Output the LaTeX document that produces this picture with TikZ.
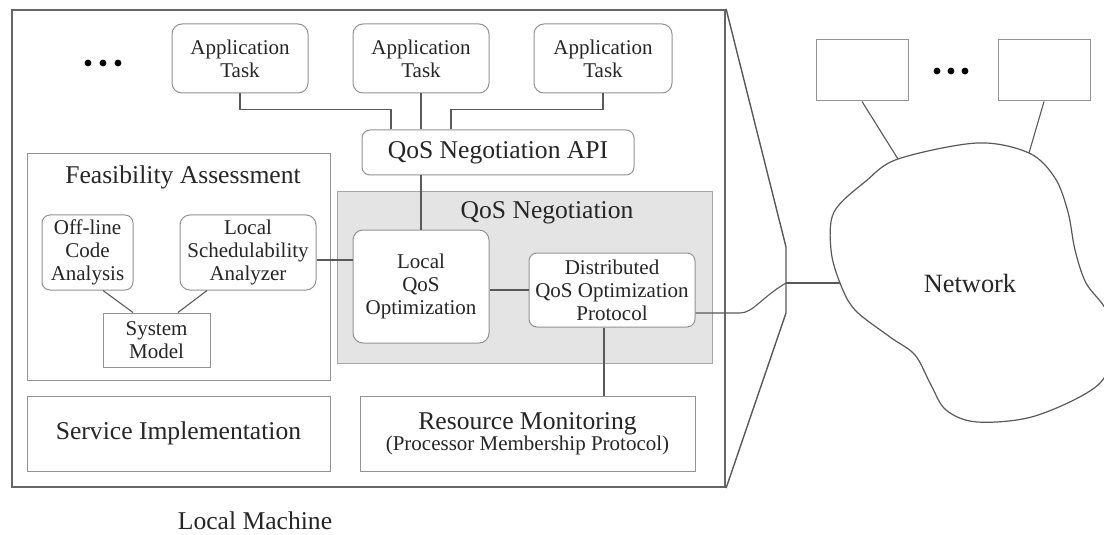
\documentclass[tikz,border=0pt]{standalone}
\usepackage{fontspec}
\setmainfont{Liberation Serif}
\usetikzlibrary{calc}

\tikzset{
  box/.style={draw=gray!85, line width=0.5pt, fill=white, align=center, inner sep=0pt,
              font=\fontsize{10.5}{11.5}\selectfont, text=black!85},
  rbox/.style={box, rounded corners=5pt},
  bigbox/.style={box, font=\fontsize{12.8}{14}\selectfont},
  title/.style={inner sep=0pt, font=\fontsize{12.8}{14}\selectfont, text=black!85},
  conn/.style={draw=black!65, line width=0.55pt},
  frame/.style={draw=black!60, line width=1.1pt},
  dotmark/.style={circle, fill=black, inner sep=0pt, minimum size=3.4pt},
}

\begin{document}
\begin{tikzpicture}[x=0.5pt, y=-0.5pt]
\useasboundingbox (0,0) rectangle (1104,535);
\clip (0,0) rectangle (1104,535);
\fill[white] (0,0) rectangle (1104,535);

% ---- local machine frame and its zoom lines ----
\node[frame, minimum width=356.5pt, minimum height=238.5pt, inner sep=0pt] (lm) at (368.5,248.5) {};
\node[title] (lmlabel) at (255,521) {Local Machine};
\coordinate (t1) at (786,247);
\coordinate (t2) at (786,313);
\coordinate (jn) at (786,283);
\draw[conn, line width=0.7pt] (lm.north east) -- (t1) -- (t2) -- (lm.south east);

% ---- application tasks ----
\node[dotmark] (ld1) at (88,63) {};
\node[dotmark] (ld2) at (103,63) {};
\node[dotmark] (ld3) at (118,63) {};
\node[rbox, minimum width=68pt, minimum height=34.5pt] (app1) at (240,58.5) {Application\\Task};
\node[rbox, minimum width=68pt, minimum height=34.5pt] (app2) at (421,58.5) {Application\\Task};
\node[rbox, minimum width=69pt, minimum height=34.5pt] (app3) at (603,58.5) {Application\\Task};

\node[bigbox, rounded corners=4pt, minimum width=136pt, minimum height=22.5pt] (api) at (498,152.5) {QoS Negotiation API};

\draw[conn] (app1.south) -- ++(0,16) -| ([xshift=-53.5pt]api.north);
\draw[conn] (app2.south) -- (app2.south |- api.north);
\draw[conn] (app3.south) -- ++(0,16) -| ([xshift=-23.5pt]api.north);

% ---- QoS negotiation ----
\node[box, draw=gray!70, fill=gray!21, minimum width=187.5pt, minimum height=85.5pt] (qneg) at (524.5,277.5) {};
\node[title] (qnegtitle) at (547,213) {QoS Negotiation};
\node[rbox, minimum width=68pt, minimum height=56.5pt] (lqo) at (421,286.5) {Local\\QoS\\Optimization};
\node[rbox, rounded corners=4pt, minimum width=83pt, minimum height=37pt] (dqo) at (612,290) {Distributed\\QoS Optimization\\Protocol};

\draw[conn] (lqo.north) -- (lqo.north |- api.south);
\draw[conn] (dqo.west -| lqo.east) -- (dqo.west);

% ---- feasibility assessment ----
\node[box, minimum width=151.5pt, minimum height=113pt] (fa) at (178.5,267) {};
\node[title] (fatitle) at (183,177) {Feasibility Assessment};
\node[rbox, rounded corners=4pt, minimum width=45.5pt, minimum height=37.5pt] (off) at (87.5,252.5) {Off-line\\Code\\Analysis};
\node[rbox, minimum width=68pt, minimum height=37.5pt] (lsa) at (248,252.5) {Local\\Schedulability\\Analyzer};
\node[box, minimum width=53.5pt, minimum height=27pt] (sm) at (156.5,340) {System\\Model};

\draw[conn] ([xshift=7.75pt]off.south) -- ([xshift=-11.75pt]sm.north);
\draw[conn] ([xshift=-20.5pt]lsa.south) -- ([xshift=10.75pt]sm.north);
\draw[conn] ([yshift=-3.75pt]lsa.east) -- ([yshift=-3.75pt]lsa.east -| lqo.west);

% ---- bottom row ----
\node[bigbox, minimum width=151.5pt, minimum height=37.5pt] (si) at (178.5,433.5) {Service Implementation};
\node[box, minimum width=167.5pt, minimum height=37.5pt] (rm) at (527.5,433.5)
  {{\fontsize{12.8}{14}\selectfont Resource Monitoring}\\[-1pt]{\fontsize{10.5}{11.5}\selectfont(Processor Membership Protocol)}};

\draw[conn] ([xshift=-4pt]dqo.south) -- ([xshift=-4pt]dqo.south |- rm.north);

% ---- link out to the network ----
\coordinate (bend) at (740,313);
\draw[conn] ([yshift=-11.5pt]dqo.east) -- (bend) .. controls (753,313) and (762,297) .. (jn);

% ---- network cloud ----
\coordinate (nw) at (840,283);
\coordinate (nn1) at (898,159);
\coordinate (nn2) at (1029,153);
\draw[conn, line width=0.6pt] plot[smooth cycle, tension=0.55] coordinates {
  (840,283) (831,250) (834,212) (866,181) (898,159) (977,143) (1029,153)
  (1055,178) (1068,212) (1075,250) (1086,283) (1106,310) (1114,345)
  (1098,385) (1035,416) (977,422) (946,410) (931,385) (915,355)
  (890,337) (855,310)};
\node[title, font=\fontsize{13.2}{15}\selectfont] (net) at (970,283) {Network};
\draw[conn] (jn) -- (nw);

% ---- remote machines ----
\node[box, minimum width=46pt, minimum height=30.5pt] (ws1) at (862,70.5) {};
\node[box, minimum width=46pt, minimum height=30.5pt] (ws2) at (1044,70.5) {};
\node[dotmark] (rd1) at (937,71) {};
\node[dotmark] (rd2) at (951,71) {};
\node[dotmark] (rd3) at (965,71) {};
\draw[conn] (ws1.south) -- (nn1);
\draw[conn] (ws2.south) -- (nn2);
\end{tikzpicture}
\end{document}
